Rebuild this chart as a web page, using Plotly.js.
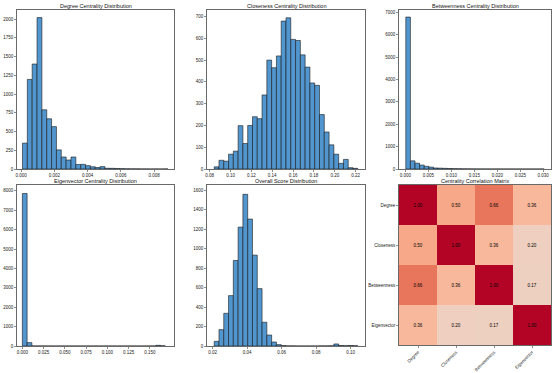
<!DOCTYPE html>
<html>
<head>
<meta charset="utf-8">
<script src="https://cdn.plot.ly/plotly-3.0.1.min.js"></script>
<style>html,body{margin:0;padding:0;background:#fff;}#chart{width:560px;height:373px;}</style>
</head>
<body>
<div id="chart"></div>
<script>
// ---- data ----
const degreeStart = 0.00008, degreeWidth = 0.000292;
const degreeCounts = [345, 1195, 1400, 2020, 790, 670, 565, 255, 160, 120, 160, 60, 62, 45, 30, 20, 32, 10, 9, 7, 5, 3, 2, 2, 1, 1, 0, 1, 0, 1];

const closenessStart = 0.0843, closenessWidth = 0.004593;
const closenessCounts = [10, 40, 36, 68, 82, 199, 117, 200, 240, 231, 340, 500, 465, 519, 679, 694, 595, 590, 524, 468, 395, 384, 250, 170, 111, 68, 26, 44, 6, 3];

const betweennessStart = 0.0001, betweennessWidth = 0.001003;
const betweennessCounts = [6790, 365, 260, 175, 120, 85, 45, 38, 30, 22, 15, 12, 8, 6, 4, 3, 2, 2, 1, 1, 1, 0, 1, 0, 0, 0, 0, 0, 0, 1];

const eigenStart = 0.0, eigenWidth = 0.0056;
const eigenCounts = [7860, 175, 3, 2, 1, 1, 0, 0, 0, 0, 0, 0, 0, 0, 0, 0, 0, 0, 0, 0, 0, 0, 0, 0, 0, 0, 1, 2, 35, 12];

const overallStart = 0.02088, overallWidth = 0.002775;
const overallCounts = [48, 168, 336, 518, 879, 1222, 1559, 1305, 934, 590, 244, 113, 41, 14, 4, 1, 1, 0, 0, 0, 0, 0, 1, 1, 2, 21, 5, 3, 5, 3];

const corrLabels = ["Degree", "Closeness", "Betweenness", "Eigenvector"];
const corrMatrix = [
  [1.00, 0.50, 0.66, 0.36],
  [0.50, 1.00, 0.36, 0.20],
  [0.66, 0.36, 1.00, 0.17],
  [0.36, 0.20, 0.17, 1.00]
];

const titles = ["Degree Centrality Distribution", "Closeness Centrality Distribution", "Betweenness Centrality Distribution",
                "Eigenvector Centrality Distribution", "Overall Score Distribution", "Centrality Correlation Matrix"];

// ---- helpers ----
function centers(start, width, n) { const c = []; for (let i = 0; i < n; i++) c.push(start + (i + 0.5) * width); return c; }
function barTrace(start, width, counts, idx) {
  return {
    type: 'bar', x: centers(start, width, counts.length), y: counts, width: width,
    marker: {color: '#5196cf', line: {color: '#1a1a1a', width: 0.6}},
    xaxis: 'x' + (idx === 1 ? '' : idx), yaxis: 'y' + (idx === 1 ? '' : idx),
    hoverinfo: 'x+y', showlegend: false
  };
}

const data = [
  barTrace(degreeStart, degreeWidth, degreeCounts, 1),
  barTrace(closenessStart, closenessWidth, closenessCounts, 2),
  barTrace(betweennessStart, betweennessWidth, betweennessCounts, 3),
  barTrace(eigenStart, eigenWidth, eigenCounts, 4),
  barTrace(overallStart, overallWidth, overallCounts, 5),
  {
    type: 'heatmap', z: corrMatrix, x: corrLabels, y: corrLabels,
    xaxis: 'x6', yaxis: 'y6', zmin: -1, zmax: 1, showscale: false,
    colorscale: [[0, '#3b4cc0'], [0.5, '#dddddd'], [0.585, '#eed0c0'], [0.6, '#efcfbf'], [0.68, '#f7b89c'],
                 [0.75, '#f7a889'], [0.83, '#e8765c'], [1, '#b40426']],
    texttemplate: '%{z:.2f}', textfont: {family: 'Liberation Sans, Arial, sans-serif', size: 4.5, color: '#000'}, xgap: 0, ygap: 0
  }
];

const W = 560, H = 373;
const cols = [[17, 174], [207, 365], [399, 551]];
const rows = [[10, 169], [185, 346]];
function dx(c) { return [c[0] / W, c[1] / W]; }
function dy(r) { return [1 - r[1] / H, 1 - r[0] / H]; }

const FONT = 'Liberation Sans, Arial, sans-serif';
const tickFont = {family: FONT, size: 4.5, color: '#222'};
function ax(domain, anchor, extra) {
  return Object.assign({
    domain: domain, anchor: anchor, showline: true, mirror: true, linecolor: '#444', linewidth: 0.8,
    ticks: 'outside', ticklen: 2, tickwidth: 0.6, tickcolor: '#444', showgrid: false, zeroline: false,
    tickfont: tickFont, fixedrange: true, automargin: false
  }, extra);
}

const layout = {
  width: W, height: H, margin: {l: 0, r: 0, t: 0, b: 0}, paper_bgcolor: '#fff', plot_bgcolor: '#fff',
  bargap: 0, showlegend: false,
  xaxis:  ax(dx(cols[0]), 'y',  {range: [-0.00025, 0.0092], tickvals: [0, 0.002, 0.004, 0.006, 0.008], tickformat: '.3f'}),
  yaxis:  ax(dy(rows[0]), 'x',  {range: [0, 2121], dtick: 250}),
  xaxis2: ax(dx(cols[1]), 'y2', {range: [0.0774, 0.229], tickvals: [0.08, 0.10, 0.12, 0.14, 0.16, 0.18, 0.20, 0.22], tickformat: '.2f'}),
  yaxis2: ax(dy(rows[0]), 'x2', {range: [0, 730], dtick: 100}),
  xaxis3: ax(dx(cols[2]), 'y3', {range: [-0.00138, 0.03169], tickvals: [0, 0.005, 0.01, 0.015, 0.02, 0.025, 0.03], tickformat: '.3f'}),
  yaxis3: ax(dy(rows[0]), 'x3', {range: [0, 7105], dtick: 1000}),
  xaxis4: ax(dx(cols[0]), 'y4', {range: [-0.0063, 0.1783], tickvals: [0, 0.025, 0.05, 0.075, 0.1, 0.125, 0.15], tickformat: '.3f'}),
  yaxis4: ax(dy(rows[1]), 'x4', {range: [0, 8300], dtick: 1000}),
  xaxis5: ax(dx(cols[1]), 'y5', {range: [0.01672, 0.10829], tickvals: [0.02, 0.04, 0.06, 0.08, 0.10], tickformat: '.2f'}),
  yaxis5: ax(dy(rows[1]), 'x5', {range: [0, 1655], dtick: 200}),
  xaxis6: ax(dx(cols[2]), 'y6', {tickangle: -45, ticklen: 2}),
  yaxis6: ax(dy([185, 345]), 'x6', {autorange: 'reversed', ticklen: 2}),
  annotations: []
};

const titlePos = [[cols[0], rows[0]], [cols[1], rows[0]], [cols[2], rows[0]],
                  [cols[0], rows[1]], [cols[1], rows[1]], [cols[2], [185, 345]]];
titles.forEach(function (t, i) {
  const c = titlePos[i][0], r = titlePos[i][1];
  layout.annotations.push({
    text: t, xref: 'paper', yref: 'paper', x: (c[0] + c[1]) / 2 / W, y: 1 - (r[0] - 0.5) / H,
    xanchor: 'center', yanchor: 'bottom', showarrow: false, borderpad: 0,
    font: {family: FONT, size: 5.5, color: '#111'}
  });
});

Plotly.newPlot('chart', data, layout, {displayModeBar: false, staticPlot: true});
</script>
</body>
</html>
